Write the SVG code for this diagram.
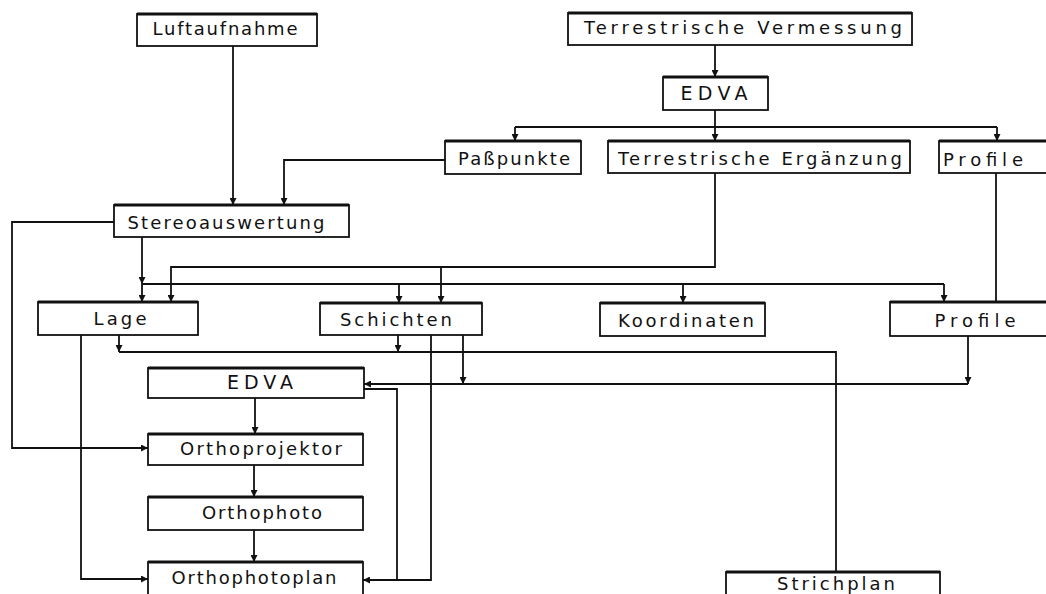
<svg xmlns="http://www.w3.org/2000/svg" width="1046" height="594" viewBox="0 0 1046 594">
  <style>
    .box { fill: #fff; stroke: #111; stroke-width: 1.8; }
    .top { stroke: #111; stroke-width: 3; }
    .lbl { font-family: "DejaVu Sans", "Liberation Sans", sans-serif; font-size: 18px; fill: #111; text-anchor: middle; }
    .big { font-size: 19px; }
    .wire { fill: none; stroke: #111; stroke-width: 1.8; }
    .arr { marker-end: url(#head); }
  </style>
  <defs>
    <marker id="head" markerUnits="userSpaceOnUse" markerWidth="8" markerHeight="7" refX="7" refY="3.5" orient="auto">
      <path d="M0,0 L7,3.5 L0,7 z" fill="#111"/>
    </marker>
  </defs>
  <rect width="1046" height="594" fill="#fff"/>

  <!-- connectors -->
  <g id="connectors">
    <path class="wire arr" d="M233,46 V205"/>
    <path class="wire arr" d="M445,160 H284 V205"/>
    <path class="wire arr" d="M715,45 V77"/>
    <path class="wire" d="M715,110 V127"/>
    <path class="wire" d="M515,127 H997"/>
    <path class="wire arr" d="M515,127 V141"/>
    <path class="wire arr" d="M715,127 V141"/>
    <path class="wire arr" d="M997,127 V141"/>

    <!-- Stereoauswertung to Orthoprojektor -->
    <path class="wire arr" d="M114,222 H12 V448 H148"/>
    <!-- Stereoauswertung to distribution line -->
    <path class="wire arr" d="M142,237 V284"/>
    <path class="wire arr" d="M142,284 V302"/>
    <path class="wire" d="M142,284 H944"/>
    <path class="wire arr" d="M399,284 V303"/>
    <path class="wire arr" d="M683,284 V303"/>
    <path class="wire arr" d="M944,284 V302"/>

    <!-- Terrestrische Ergänzung -->
    <path class="wire arr" d="M715,173 V267 H171 V302"/>
    <path class="wire arr" d="M441,267 V303"/>

    <!-- Profile to Profile -->
    <path class="wire" d="M996,173 V302"/>

    <!-- Lage / Schichten to Strichplan -->
    <path class="wire arr" d="M119,335 V352"/>
    <path class="wire" d="M119,352 H836 V572"/>
    <path class="wire arr" d="M398,335 V352"/>

    <!-- Lage to Orthophotoplan -->
    <path class="wire arr" d="M81,335 V579 H148"/>
    <!-- Schichten to Orthophotoplan -->
    <path class="wire arr" d="M431,335 V580 H363"/>
    <!-- Schichten to EDVA line -->
    <path class="wire arr" d="M463,335 V384"/>
    <!-- Profile to EDVA -->
    <path class="wire arr" d="M968,336 V384"/>
    <path class="wire arr" d="M968,384 H364"/>
    <!-- EDVA to Orthophotoplan -->
    <path class="wire" d="M364,389 H397 V580"/>

    <!-- ortho chain -->
    <path class="wire arr" d="M255,398 V434"/>
    <path class="wire arr" d="M254,465 V497"/>
    <path class="wire arr" d="M254,530 V562"/>
  </g>

  <g id="luftaufnahme">
    <rect class="box" x="137" y="14" width="180" height="32"/>
    <line class="top" x1="137" y1="14" x2="317" y2="14"/>
    <text class="lbl" x="225" y="35" textLength="145" lengthAdjust="spacing">Luftaufnahme</text>
  </g>
  <g id="vermessung">
    <rect class="box" x="568" y="13" width="344" height="32"/>
    <line class="top" x1="568" y1="13" x2="912" y2="13"/>
    <text class="lbl" x="743" y="34" textLength="318" lengthAdjust="spacing">Terrestrische Vermessung</text>
  </g>
  <g id="edva-top">
    <rect class="box" x="663" y="77" width="105" height="33"/>
    <line class="top" x1="663" y1="77" x2="768" y2="77"/>
    <text class="lbl big" x="714" y="100" textLength="67" lengthAdjust="spacing">EDVA</text>
  </g>
  <g id="passpunkte">
    <rect class="box" x="445" y="141" width="136" height="33"/>
    <line class="top" x1="445" y1="141" x2="581" y2="141"/>
    <text class="lbl" x="514" y="165" textLength="112" lengthAdjust="spacing">Paßpunkte</text>
  </g>
  <g id="ergaenzung">
    <rect class="box" x="608" y="141" width="302" height="32"/>
    <line class="top" x1="608" y1="141" x2="910" y2="141"/>
    <text class="lbl" x="760" y="165" textLength="284" lengthAdjust="spacing">Terrestrische Ergänzung</text>
  </g>
  <g id="profile-top">
    <rect class="box" x="939" y="141" width="111" height="32"/>
    <line class="top" x1="939" y1="141" x2="1050" y2="141"/>
    <text class="lbl" x="983" y="166" textLength="80" lengthAdjust="spacing">Profile</text>
  </g>
  <g id="stereoauswertung">
    <rect class="box" x="114" y="205" width="235" height="32"/>
    <line class="top" x1="114" y1="205" x2="349" y2="205"/>
    <text class="lbl" x="226" y="229" textLength="197" lengthAdjust="spacing">Stereoauswertung</text>
  </g>
  <g id="lage">
    <rect class="box" x="38" y="302" width="160" height="33"/>
    <line class="top" x1="38" y1="302" x2="198" y2="302"/>
    <text class="lbl" x="120" y="325" textLength="53" lengthAdjust="spacing">Lage</text>
  </g>
  <g id="schichten">
    <rect class="box" x="320" y="303" width="162" height="32"/>
    <line class="top" x1="320" y1="303" x2="482" y2="303"/>
    <text class="lbl" x="396" y="326" textLength="112" lengthAdjust="spacing">Schichten</text>
  </g>
  <g id="koordinaten">
    <rect class="box" x="600" y="303" width="165" height="33"/>
    <line class="top" x1="600" y1="303" x2="765" y2="303"/>
    <text class="lbl" x="686" y="327" textLength="136" lengthAdjust="spacing">Koordinaten</text>
  </g>
  <g id="profile-mid">
    <rect class="box" x="890" y="302" width="160" height="34"/>
    <line class="top" x1="890" y1="302" x2="1050" y2="302"/>
    <text class="lbl" x="975" y="327" textLength="81" lengthAdjust="spacing">Profile</text>
  </g>
  <g id="edva-low">
    <rect class="box" x="148" y="368" width="216" height="30"/>
    <line class="top" x1="148" y1="368" x2="364" y2="368"/>
    <text class="lbl big" x="260" y="389" textLength="66" lengthAdjust="spacing">EDVA</text>
  </g>
  <g id="orthoprojektor">
    <rect class="box" x="148" y="434" width="215" height="31"/>
    <line class="top" x1="148" y1="434" x2="363" y2="434"/>
    <text class="lbl" x="261" y="455" textLength="162" lengthAdjust="spacing">Orthoprojektor</text>
  </g>
  <g id="orthophoto">
    <rect class="box" x="148" y="497" width="215" height="33"/>
    <line class="top" x1="148" y1="497" x2="363" y2="497"/>
    <text class="lbl" x="262" y="519" textLength="120" lengthAdjust="spacing">Orthophoto</text>
  </g>
  <g id="orthophotoplan">
    <rect class="box" x="148" y="562" width="215" height="40"/>
    <line class="top" x1="148" y1="562" x2="363" y2="562"/>
    <text class="lbl" x="254" y="584" textLength="165" lengthAdjust="spacing">Orthophotoplan</text>
  </g>
  <g id="strichplan">
    <rect class="box" x="726" y="572" width="214" height="30"/>
    <line class="top" x1="726" y1="572" x2="940" y2="572"/>
    <text class="lbl" x="836" y="590" textLength="118" lengthAdjust="spacing">Strichplan</text>
  </g>
</svg>
